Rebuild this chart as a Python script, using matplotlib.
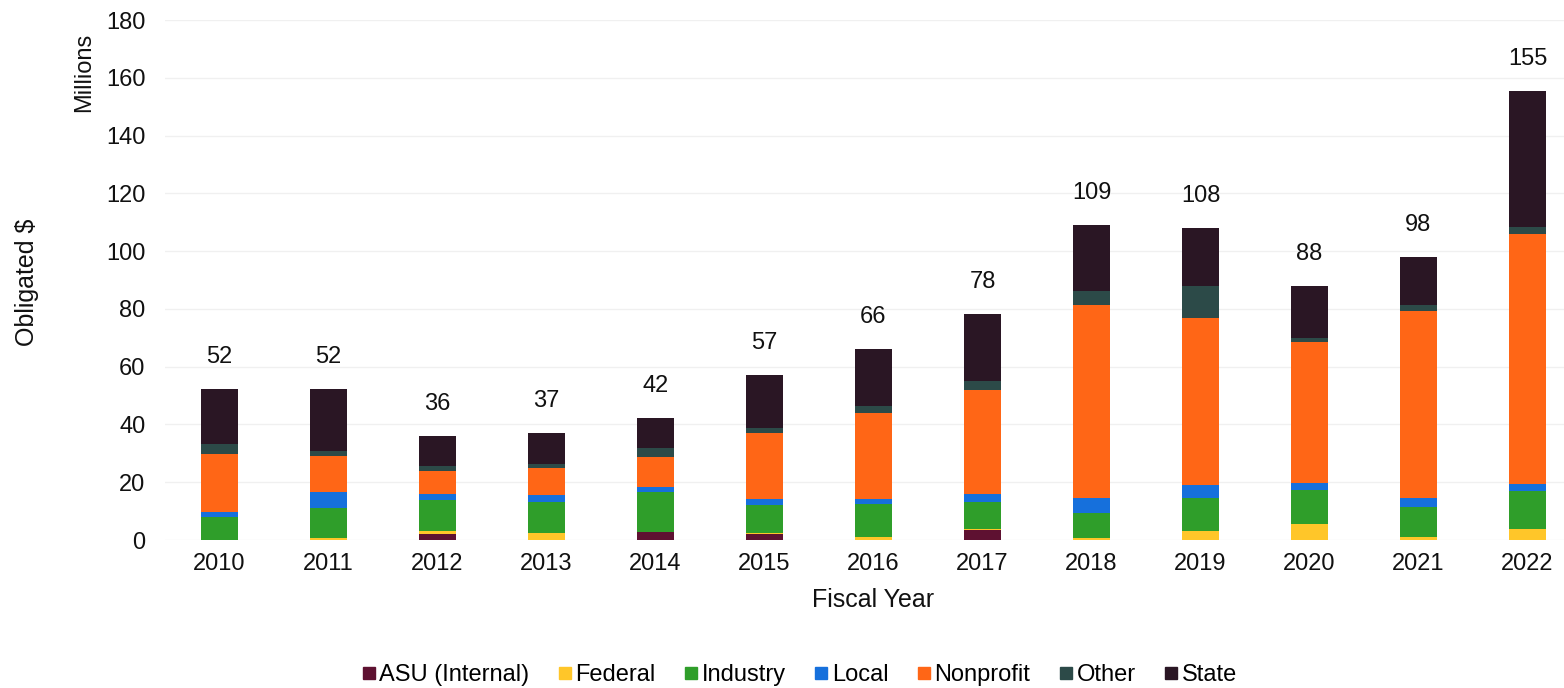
import matplotlib.pyplot as plt
from matplotlib.lines import Line2D
import numpy as np

plt.rcParams['font.family'] = ['Liberation Sans', 'DejaVu Sans']

years = ['2010', '2011', '2012', '2013', '2014', '2015', '2016',
         '2017', '2018', '2019', '2020', '2021', '2022']

# obligated dollars by sponsor type, millions
asu_internal = [0.0, 0.0, 2.2, 0.0, 2.9, 2.0, 0.0, 3.5, 0.0, 0.0, 0.0, 0.0, 0.0]
federal = [0.0, 0.8, 0.8, 2.3, 0.0, 0.4, 1.2, 0.4, 0.6, 3.2, 5.6, 0.9, 3.7]
industry = [8.1, 10.3, 10.9, 10.7, 13.7, 9.8, 11.2, 9.3, 8.6, 11.3, 11.8, 10.7, 13.4]
local = [1.7, 5.5, 2.0, 2.6, 1.9, 1.9, 1.8, 2.9, 5.2, 4.6, 2.3, 2.9, 2.4]
nonprofit = [20.0, 12.4, 7.9, 9.3, 10.2, 23.0, 29.8, 35.9, 67.0, 57.6, 49.0, 64.8, 86.5]
other = [3.4, 1.7, 1.8, 1.5, 3.2, 1.7, 2.3, 2.9, 4.8, 11.1, 1.1, 2.0, 2.3]
state = [19.0, 21.6, 10.5, 10.6, 10.3, 18.4, 19.9, 23.4, 22.7, 20.3, 18.3, 16.6, 47.0]

series = [
    ('ASU (Internal)', asu_internal, '#5e1131'),
    ('Federal', federal, '#ffc629'),
    ('Industry', industry, '#2f9e2a'),
    ('Local', local, '#1670dc'),
    ('Nonprofit', nonprofit, '#ff6616'),
    ('Other', other, '#2c4a48'),
    ('State', state, '#2a1624'),
]

fig = plt.figure(figsize=(15.64, 6.88), dpi=100)
ax = fig.add_axes([0.1055, 0.2151, 0.906, 0.7558])

x = np.arange(len(years))
bottom = np.zeros(len(years))
for name, vals, col in series:
    ax.bar(x, vals, width=0.34, bottom=bottom, color=col, linewidth=0)
    bottom += np.array(vals)

# totals above each stack
for xi, tot in zip(x, bottom):
    ax.annotate(f'{tot:.0f}', (xi, tot), xytext=(0, 23), textcoords='offset points',
                ha='center', va='center', fontsize=17, color='#111111')

ax.set_xlim(-0.5, 12.5)
ax.set_ylim(0, 180)
ax.set_yticks(range(0, 181, 20))
ax.set_xticks(x)
ax.set_xticklabels(years)
ax.tick_params(axis='both', length=0, labelsize=17, colors='#111111')
ax.tick_params(axis='y', pad=14)
ax.tick_params(axis='x', pad=9)
for s in ax.spines.values():
    s.set_visible(False)
ax.yaxis.grid(True, color='#f0f0f0', linewidth=1)
ax.set_axisbelow(True)

ax.set_xlabel('Fiscal Year', fontsize=18, color='#111111', labelpad=10)
fig.text(0.017, 0.59, 'Obligated $', rotation=90, ha='center', va='center',
         fontsize=18, color='#111111')
fig.text(0.054, 0.895, 'Millions', rotation=90, ha='center', va='center',
         fontsize=17, color='#111111')

handles = [Line2D([], [], marker='s', linestyle='none', markersize=8,
                  markerfacecolor=col, markeredgecolor=col) for _, _, col in series]
fig.legend(handles, [n for n, _, _ in series], loc='center', bbox_to_anchor=(0.511, 0.019),
           ncol=7, frameon=False, fontsize=17, handlelength=0.6, handletextpad=0.15,
           columnspacing=1.2)

fig.savefig('out.png', dpi=100)
